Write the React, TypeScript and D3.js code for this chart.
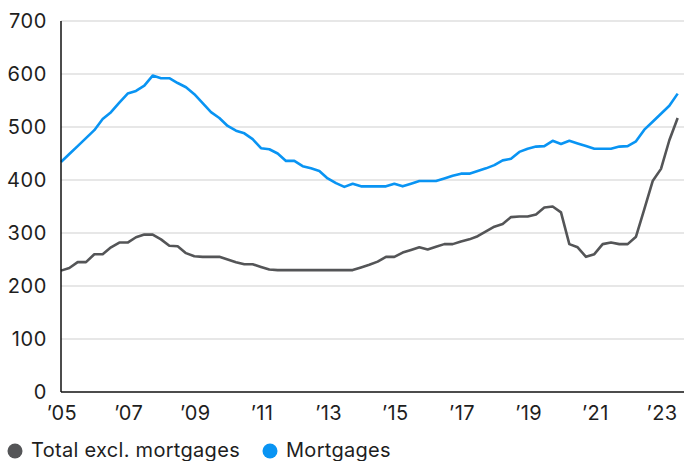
import React, { useEffect, useRef } from 'react';
import * as d3 from 'd3';

// quarterly, 2005Q1 .. 2023Q3
const startYear = 2005;
const mortgages = [
  434, 449, 464, 479, 494, 515, 528, 546, 563, 568, 578, 597, 592, 592, 583, 575,
  562, 545, 528, 517, 502, 493, 488, 477, 460, 458, 450, 436, 436, 426, 422, 417,
  403, 394, 387, 393, 388, 388, 388, 388, 393, 388, 393, 398, 398, 398, 403, 408,
  412, 412, 417, 422, 428, 437, 440, 453, 459, 463, 464, 474, 468, 474, 469, 464,
  459, 459, 459, 463, 464, 473, 495, 510, 525, 540, 563,
];
const totalExclMortgages = [
  229, 234, 245, 245, 260, 260, 273, 282, 282, 292, 297, 297, 288, 276, 275, 262,
  256, 255, 255, 255, 250, 245, 241, 241, 236, 231, 230, 230, 230, 230, 230, 230,
  230, 230, 230, 230, 235, 240, 246, 255, 255, 263, 268, 273, 269, 274, 279, 279,
  284, 288, 294, 303, 312, 317, 330, 331, 331, 335, 348, 350, 339, 279, 273, 255,
  260, 279, 282, 279, 279, 293, 345, 398, 421, 475, 517,
];
const yTicks = [0, 100, 200, 300, 400, 500, 600, 700];
const xTicks = [2005, 2007, 2009, 2011, 2013, 2015, 2017, 2019, 2021, 2023];
const seriesNames = ['Total excl. mortgages', 'Mortgages'];
const seriesColors = ['#545557', '#0994f3'];

const W = 684;
const H = 461;
const margin = { top: 21, right: 0, bottom: 69, left: 61 };
const font = 'Inter, "Noto Sans", sans-serif';

export default function App() {
  const ref = useRef<SVGSVGElement>(null);

  useEffect(() => {
    const svg = d3.select(ref.current);
    svg.selectAll('*').remove();

    const x = d3.scaleLinear()
      .domain([startYear, 2023])
      .range([margin.left, 661]);
    const y = d3.scaleLinear()
      .domain([0, 700])
      .range([H - margin.bottom, margin.top]);

    // gridlines
    svg.append('g')
      .selectAll('line')
      .data(yTicks.slice(1))
      .enter().append('line')
      .attr('x1', margin.left)
      .attr('x2', W)
      .attr('y1', d => y(d))
      .attr('y2', d => y(d))
      .attr('stroke', '#cfcfcf')
      .attr('stroke-width', 1.2);

    // y labels
    svg.append('g')
      .selectAll('text')
      .data(yTicks)
      .enter().append('text')
      .attr('x', 47)
      .attr('y', d => y(d))
      .attr('dy', '0.36em')
      .attr('text-anchor', 'end')
      .attr('font-family', font)
      .attr('font-size', 20)
      .attr('letter-spacing', 0.6)
      .attr('fill', '#1e1e1e')
      .text(d => d);

    // x labels
    svg.append('g')
      .selectAll('text')
      .data(xTicks)
      .enter().append('text')
      .attr('x', d => x(d) + 1)
      .attr('y', 420)
      .attr('text-anchor', 'middle')
      .attr('font-family', font)
      .attr('font-size', 20)
      .attr('letter-spacing', 0.4)
      .attr('fill', '#1e1e1e')
      .text(d => '\u2019' + String(d).slice(2));

    const qx = (i: number) => x(startYear + i / 4);
    const line = d3.line<number>()
      .x((d, i) => qx(i))
      .y(d => y(d));

    [totalExclMortgages, mortgages].forEach((s, k) => {
      svg.append('path')
        .datum(s)
        .attr('d', line)
        .attr('fill', 'none')
        .attr('stroke', seriesColors[k])
        .attr('stroke-width', 2.6)
        .attr('stroke-linejoin', 'round');
    });

    // axes
    svg.append('line')
      .attr('x1', margin.left).attr('x2', margin.left)
      .attr('y1', margin.top).attr('y2', y(0))
      .attr('stroke', '#111').attr('stroke-width', 1.5);
    svg.append('line')
      .attr('x1', margin.left).attr('x2', W)
      .attr('y1', y(0)).attr('y2', y(0))
      .attr('stroke', '#111').attr('stroke-width', 1.5);

    // legend
    const legendX = [15, 270];
    const legend = svg.append('g');
    seriesNames.forEach((name, k) => {
      legend.append('circle')
        .attr('cx', legendX[k])
        .attr('cy', 451)
        .attr('r', 7.5)
        .attr('fill', seriesColors[k]);
      legend.append('text')
        .attr('x', legendX[k] + 16)
        .attr('y', 457)
        .attr('font-family', font)
        .attr('font-size', 20)
        .attr('letter-spacing', 0.3)
        .attr('fill', '#1e1e1e')
        .text(name);
    });
  }, []);

  return (
    <svg ref={ref} width={W} height={H}
      style={{ position: 'absolute', left: 0, top: 0, background: '#fff' }} />
  );
}
